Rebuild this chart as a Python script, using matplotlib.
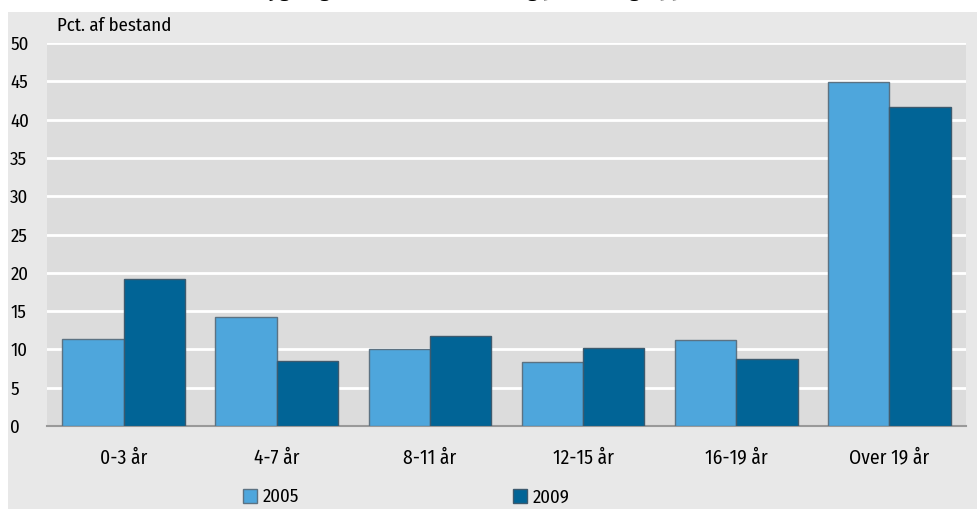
import numpy as np
import matplotlib.pyplot as plt
from matplotlib.patches import Rectangle

plt.rcParams['font.family'] = ['Fira Sans Condensed', 'DejaVu Sans']

cats = ['0-3 år', '4-7 år', '8-11 år', '12-15 år', '16-19 år', 'Over 19 år']
v2005 = [11.4, 14.2, 10.1, 8.4, 11.2, 44.9]
v2009 = [19.2, 8.5, 11.8, 10.2, 8.8, 41.6]
yticks = [0, 5, 10, 15, 20, 25, 30, 35, 40, 45, 50]

fig = plt.figure(figsize=(9.78, 5.09), dpi=100)
fig.patch.set_facecolor('white')
# grey panel behind the chart
fig.patches.append(Rectangle((8/978, 0), 970/978, 497/509, transform=fig.transFigure,
                             facecolor='#e8e8e8', edgecolor='none', zorder=-5))
# title, cut off at the top edge like in the source
fig.text(0.49, 1.0 + 4/509, 'Bygningsbestandens fordeling på aldersgrupper',
         ha='center', va='baseline', fontsize=16, fontweight='bold')

ax = fig.add_axes([47/978, 1 - 426/509, 919/978, 383/509])
ax.set_zorder(2)
ax.set_facecolor('#dcdcdc')

x = np.arange(len(cats))
w = 0.4
ax.bar(x - w/2, v2005, w, color='#4ea6dc', edgecolor='#5c7282', linewidth=1, label='2005', zorder=3)
ax.bar(x + w/2, v2009, w, color='#016496', edgecolor='#3d5a6e', linewidth=1, label='2009', zorder=3)

ax.set_xlim(-0.5, len(cats) - 0.5)
ax.set_ylim(0, 50)
ax.set_yticks(yticks)
ax.yaxis.grid(True, color='white', linewidth=2, zorder=1)
ax.set_axisbelow(True)
for s in ['top', 'right', 'left']:
    ax.spines[s].set_visible(False)
ax.spines['bottom'].set_color('#999999')
ax.spines['bottom'].set_linewidth(1.5)
ax.tick_params(axis='both', length=0, labelsize=13.5, colors='black')
ax.tick_params(axis='y', pad=26.5)
ax.tick_params(axis='x', pad=16, labelsize=14)
ax.set_xticks(x)
ax.set_xticklabels(cats)
for lab in ax.get_yticklabels():
    lab.set_horizontalalignment('left')

ax.text(10/919, 1 + 17/383, 'Pct. af bestand', transform=ax.transAxes, fontsize=13.5, va='center')

ax.legend(loc='lower left', bbox_to_anchor=(196/919, -80/383), ncol=2, frameon=False,
          fontsize=13.5, handlelength=0.75, handleheight=0.8, handletextpad=0.3,
          columnspacing=11.4, borderaxespad=0, borderpad=0)

fig.savefig('out.png', dpi=100)
